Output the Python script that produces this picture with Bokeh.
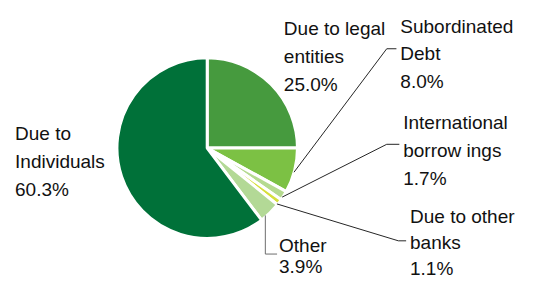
import numpy as np
from bokeh.plotting import figure
from bokeh.models import Range1d
from bokeh.core.properties import value
from bokeh.embed import file_html
from bokeh.resources import INLINE

# ---- data ----
categories = ["Due to legal entities", "Subordinated Debt", "International borrowings",
              "Due to other banks", "Other", "Due to Individuals"]
shares = [25.0, 8.0, 1.7, 1.1, 3.9, 60.3]
label_lines = [
    ["Due to legal", "entities", "25.0%"],
    ["Subordinated", "Debt", "8.0%"],
    ["International", "borrow ings", "1.7%"],
    ["Due to other", "banks", "1.1%"],
    ["Other", "3.9%"],
    ["Due to", "Individuals", "60.3%"],
]
colors = ["#469a3e", "#7cc144", "#b5da90", "#d6df3c", "#b3d996", "#007139"]

# ---- layout (reference pixel coordinates, y measured from top) ----
W, H = 541, 297
def Y(ypx):
    return H - ypx

cx, cy, R = 213, 156, 93
label_pos = [(292, 30), (412, 27), (415, 129), (422, 228), (287, 259), (15, 141)]
line_steps = [29.5, 29.5, 29.5, 27.5, 22.0, 29.5]
# leader: (kink x, kink y, end x) ; None = no leader
leaders = [None, (398, 51, 408), (398, 152, 411), (410, 254, 418), ("v", 268, 285), None]
leader_angle_shift = [0, 1.5, 2.0, 2.5, 4.0, 0]  # degrees, anchor nudge

p = figure(width=525, height=281, output_backend="svg", toolbar_location=None,
           x_range=Range1d(0, W), y_range=Range1d(0, H),
           min_border=0, outline_line_color=None)
p.axis.visible = False
p.grid.visible = False
p.background_fill_color = "white"
p.border_fill_color = "white"

vals = np.array(shares, dtype=float)
frac = vals / vals.sum()
cum = np.concatenate([[0.0], np.cumsum(frac)])
start = np.pi / 2 - 2 * np.pi * cum[:-1]
end = np.pi / 2 - 2 * np.pi * cum[1:]

p.wedge(x=cx, y=Y(cy), radius=R, start_angle=start, end_angle=end,
        direction="clock", fill_color=colors, line_color="white", line_width=3)

# leaders
for i, ld in enumerate(leaders):
    if ld is None:
        continue
    mid = 2 * np.pi * (cum[i] + cum[i + 1]) / 2 + np.deg2rad(leader_angle_shift[i])
    ax = cx + R * np.sin(mid)
    ay = cy - R * np.cos(mid)
    if ld[0] == "v":
        xs = [ax, ax, ld[2]]
        ys = [ay, ld[1], ld[1]]
        col = "#6e6e6e"
    else:
        xs = [ax, ld[0], ld[2]]
        ys = [ay, ld[1], ld[1]]
        col = "#262626"
    p.line(xs, [Y(v) for v in ys], line_color=col, line_width=1)

# labels
for (lx, ly), lines, step in zip(label_pos, label_lines, line_steps):
    xs = [lx] * len(lines)
    ys = [Y(ly + k * step) for k in range(len(lines))]
    p.text(x=xs, y=ys, text=lines, text_font=value("Liberation Sans"),
           text_font_size="19px", text_color="#111111",
           text_align="left", text_baseline="alphabetic")

open("out.html", "w").write(file_html(p, INLINE))
